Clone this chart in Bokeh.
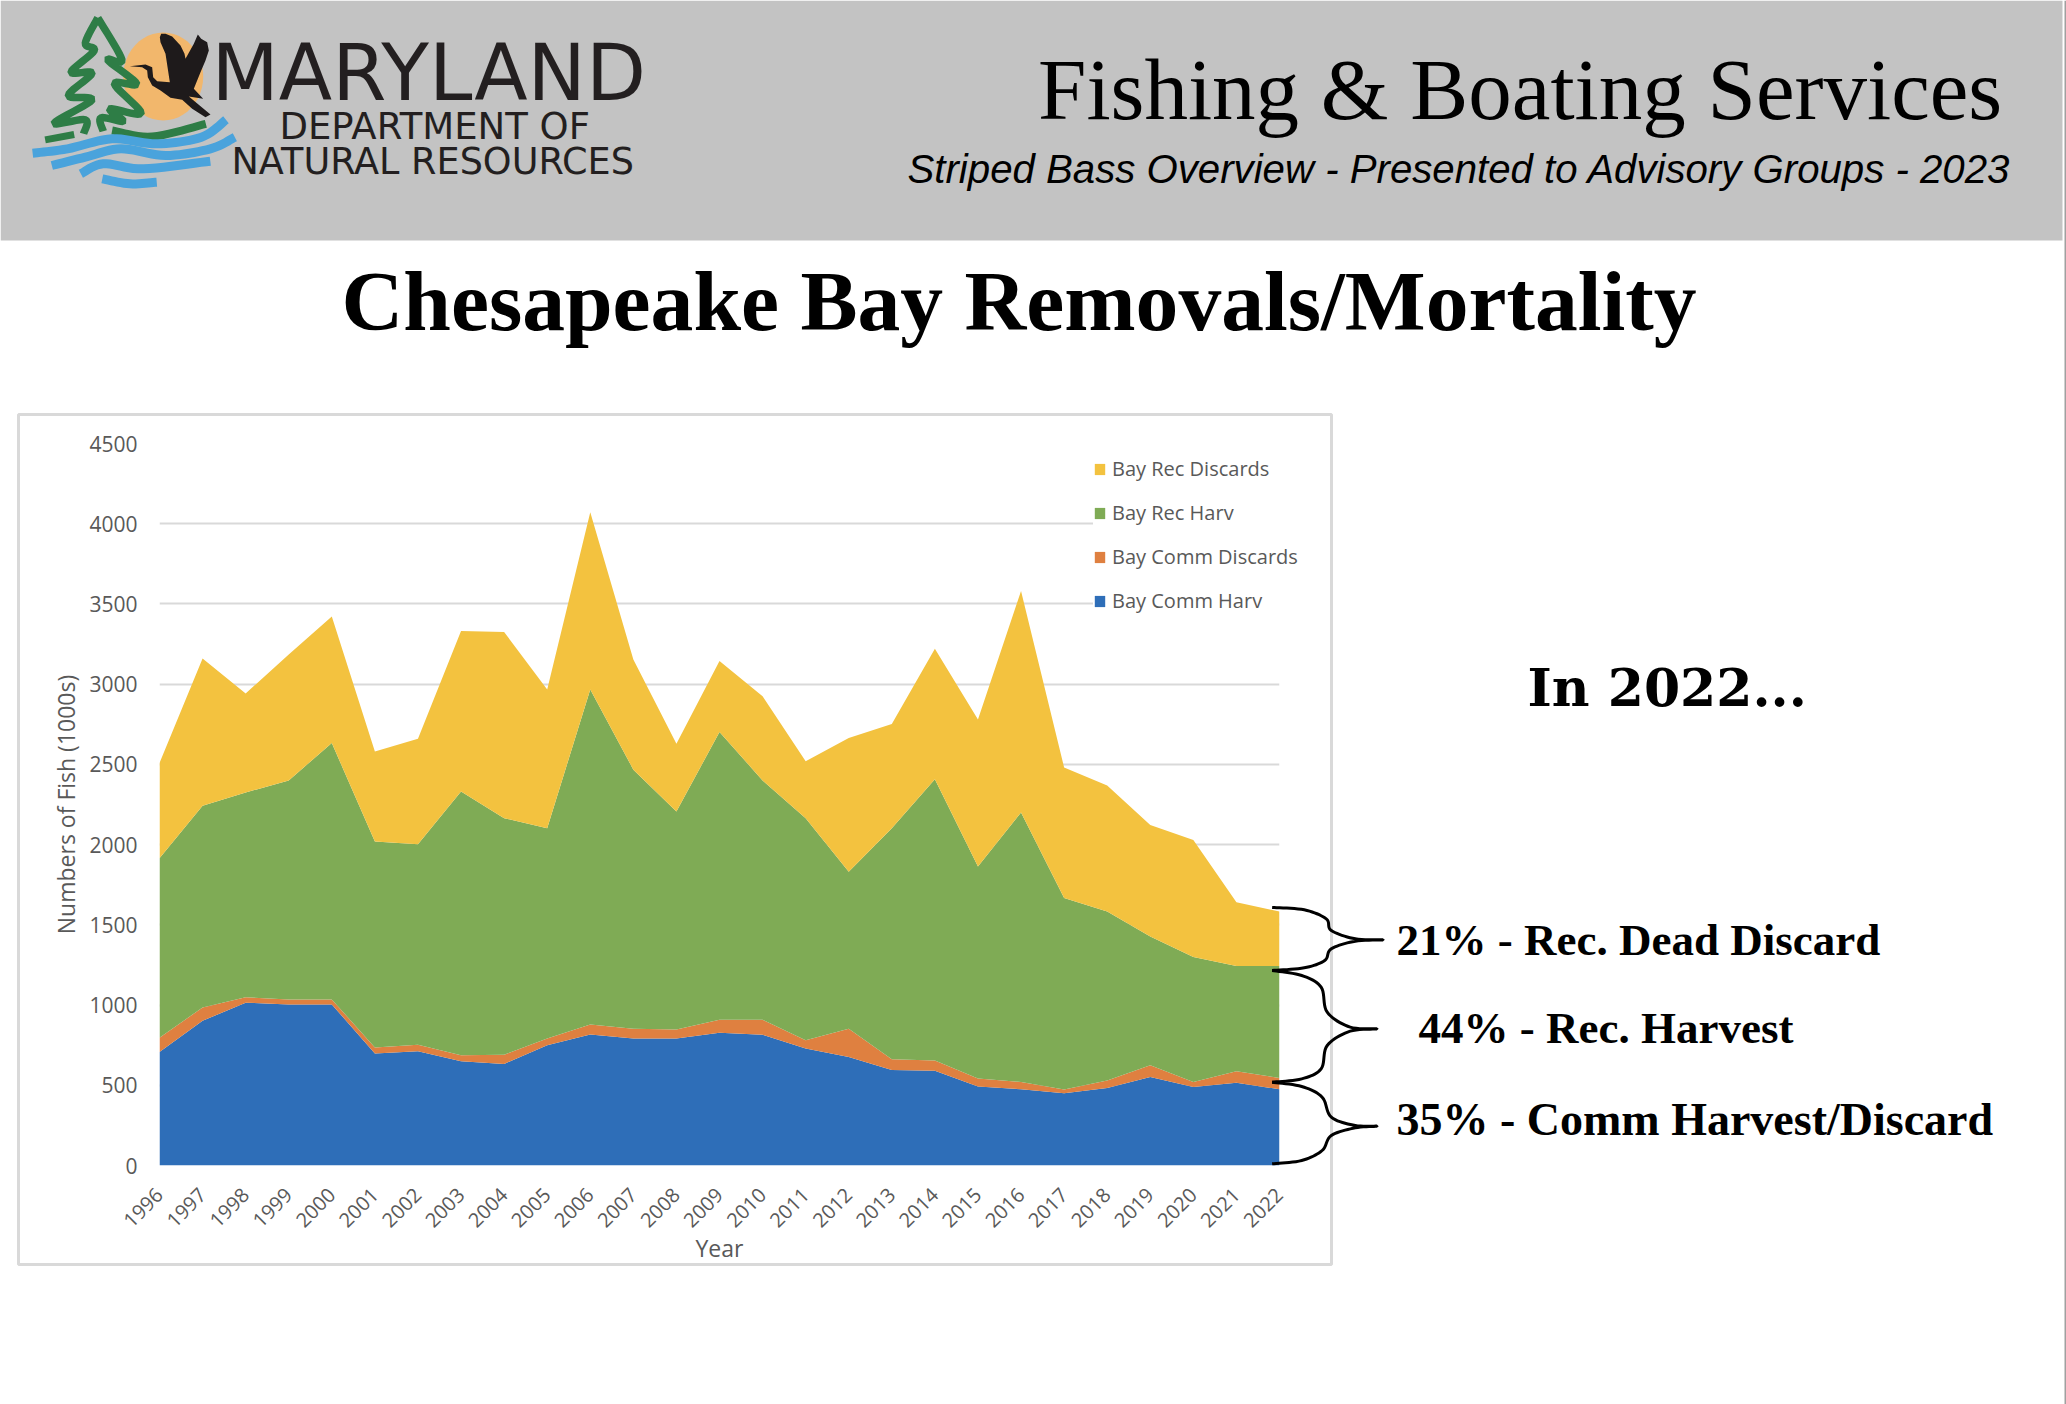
import math
from bokeh.embed import file_html
from bokeh.resources import INLINE
from bokeh.plotting import figure
from bokeh.models import (BoxAnnotation, ColumnDataSource, FixedTicker, Label, Legend,
                          LegendItem, PolyAnnotation, Range1d)

years = list(range(1996, 2023))
year_labels = [str(y) for y in years]

bay_comm_harv = [708, 902, 1015, 1004, 1004, 698, 712, 650, 633, 750, 817, 792, 792, 827, 815, 729, 677,
                 596, 590, 492, 475, 450, 483, 552, 490, 515, 475]
bay_comm_discards = [88, 83, 33, 31, 31, 37, 40, 37, 57, 42, 62, 60, 56, 81, 93, 52, 175,
                     66, 64, 50, 46, 23, 46, 73, 31, 72, 71]
bay_rec_harv = [1119, 1257, 1277, 1365, 1598, 1284, 1250, 1644, 1475, 1310, 2088, 1615, 1358, 1794, 1492,
                1384, 979, 1440, 1754, 1321, 1679, 1194, 1054, 802, 779, 657, 698]
bay_rec_discards = [593, 918, 617, 785, 788, 562, 658, 1000, 1160, 865, 1104, 687, 423, 442, 525, 354, 834,
                    650, 813, 916, 1381, 814, 786, 696, 729, 396, 339]

y_ticks = [0, 500, 1000, 1500, 2000, 2500, 3000, 3500, 4000, 4500]
series_names = ["Bay Comm Harv", "Bay Comm Discards", "Bay Rec Harv", "Bay Rec Discards"]
series_colors = ["#2E6EB8", "#DF8040", "#7FAB55", "#F3C23F"]

W, H = 2066, 1404
L, R, T, B = 159, 1279, 443, 1165

# ---- chart ----------------------------------------------------------------
p = figure(width=W, height=H, output_backend="svg", toolbar_location=None,
           x_range=Range1d(1996, 2022), y_range=Range1d(0, 4500),
           min_border_left=L, min_border_right=W - R, min_border_top=T, min_border_bottom=H - B,
           background_fill_color="white", border_fill_color="white", outline_line_color=None)
p.styles = {"position": "absolute", "left": "0px", "top": "0px"}

source = ColumnDataSource(dict(year=years, a=bay_comm_harv, b=bay_comm_discards, c=bay_rec_harv, d=bay_rec_discards))
areas = p.varea_stack(stackers=["a", "b", "c", "d"], x="year", color=series_colors, source=source)

p.xaxis.ticker = FixedTicker(ticks=years)
p.xaxis.major_label_orientation = math.pi / 4
p.yaxis.ticker = FixedTicker(ticks=y_ticks)
p.xaxis.major_label_overrides = {y: s for y, s in zip(years, year_labels)}
for ax, size in ((p.xaxis, "20px"), (p.yaxis, "21px")):
    ax.axis_line_color = None
    ax.major_tick_line_color = None
    ax.minor_tick_line_color = None
    ax.major_label_text_color = "#595959"
    ax.major_label_text_font = "Open Sans"
    ax.major_label_text_font_size = size
    ax.axis_label_text_color = "#595959"
    ax.axis_label_text_font = "Open Sans"
    ax.axis_label_text_font_size = "23px"
    ax.axis_label_text_font_style = "normal"
p.xaxis.axis_label = "Year"
p.yaxis.axis_label = "Numbers of Fish (1000s)"
p.xaxis.major_label_standoff = 20
p.yaxis.major_label_standoff = 16
p.xaxis.axis_label_standoff = -5
p.yaxis.axis_label_standoff = 4
p.xgrid.visible = False
p.ygrid.grid_line_color = "#D9D9D9"
p.ygrid.grid_line_width = 2

items = [LegendItem(label=n, renderers=[r]) for n, r in zip(series_names[::-1], areas[::-1])]
legend = Legend(items=items, location=(-186, 551), orientation="vertical", border_line_color=None,
                background_fill_color="white", background_fill_alpha=1, margin=0, padding=10,
                spacing=17, glyph_width=13, glyph_height=14, label_standoff=6, label_height=20,
                label_text_font="Open Sans", label_text_font_size="20px", label_text_color="#595959")
p.add_layout(legend, "right")

# ---- page furniture: a transparent sheet over the chart, in page pixels --------
q = figure(width=W, height=H, output_backend="svg", toolbar_location=None,
           x_range=Range1d(0, W), y_range=Range1d(H, 0), x_axis_location=None, y_axis_location=None,
           min_border=0, background_fill_color=None, border_fill_color=None, outline_line_color=None)
q.styles = {"position": "absolute", "left": "0px", "top": "0px"}
q.grid.grid_line_color = None


def box(l, r, t, b, fill, line=None, lw=0, level="underlay"):
    q.add_layout(BoxAnnotation(left=l, right=r, top=t, bottom=b, fill_color=fill, fill_alpha=1 if fill else 0,
                               line_color=line, line_width=lw, line_alpha=1 if line else 0, level=level))


def text(s, x, y, size, font="Liberation Serif", style="normal", color="#000000", align="left"):
    # y is the wanted baseline of the text on the page
    q.add_layout(Label(x=x, y=y - 0.34 * size, text=s, text_font=font, text_font_size=f"{size}px",
                       text_font_style=style, text_color=color, text_align=align, text_baseline="alphabetic"))


def smooth(pts, n=10):
    if len(pts) < 3:
        return list(pts)
    P = [pts[0]] + list(pts) + [pts[-1]]
    out = []
    for i in range(1, len(P) - 2):
        p0, p1, p2, p3 = P[i - 1], P[i], P[i + 1], P[i + 2]
        for k in range(n):
            t = k / n
            out.append(tuple(0.5 * (2 * p1[d] + (p2[d] - p0[d]) * t + (2 * p0[d] - 5 * p1[d] + 4 * p2[d] - p3[d]) * t * t
                                    + (3 * p1[d] - p0[d] - 3 * p2[d] + p3[d]) * t ** 3) for d in (0, 1)))
    out.append(pts[-1])
    return out


def poly(pts, color):
    q.add_layout(PolyAnnotation(xs=[a for a, _ in pts], ys=[b for _, b in pts], fill_color=color, fill_alpha=1,
                                line_color=None, line_alpha=0, level="overlay"))


def stroke(pts, width, color):
    c = smooth(pts)
    left, right = [], []
    for i, (a, b) in enumerate(c):
        a0, b0 = c[max(i - 1, 0)]
        a1, b1 = c[min(i + 1, len(c) - 1)]
        dx, dy = a1 - a0, b1 - b0
        d = math.hypot(dx, dy) or 1
        left.append((a - dy / d * width / 2, b + dx / d * width / 2))
        right.append((a + dy / d * width / 2, b - dx / d * width / 2))
    poly(left + right[::-1], color)


def lz(pts):  # logo sketch coordinates -> page pixels
    return [(a / 2.24, b / 3) for a, b in pts]


box(0, 2062, 0, 240, "#C3C3C3")
box(2064, W, 0, H, "#A0A0A0")
box(18, 1331, 414, 1264, None, "#D9D9D9", 3)

# logo
poly([(162.7 + 40 * math.cos(t / 24 * math.pi), 76 + 44 * math.sin(t / 24 * math.pi)) for t in range(48)], "#F2B76C")
GREEN, BLUE = "#2E7D46", "#4AA3DC"
stroke(lz([(218, 52), (190, 128), (210, 150), (158, 215), (205, 218), (152, 285), (205, 298), (120, 368), (190, 358), (186, 400)]), 7.5, GREEN)
stroke(lz([(218, 52), (272, 178), (240, 178), (305, 250), (255, 250), (315, 338), (245, 325), (275, 362), (225, 352), (230, 392)]), 7.5, GREEN)
stroke(lz([(100, 418), (165, 402)]), 7, GREEN)
stroke(lz([(250, 390), (340, 408), (460, 370)]), 8, GREEN)
stroke(lz([(72, 458), (150, 445), (250, 415), (350, 430), (450, 410), (505, 358)]), 9, BLUE)
stroke(lz([(115, 495), (190, 470), (270, 445), (370, 465), (470, 445), (525, 410)]), 9, BLUE)
stroke(lz([(180, 520), (230, 490), (320, 505), (470, 482)]), 9, BLUE)
stroke(lz([(228, 535), (290, 550), (350, 545)]), 9, BLUE)
bird = [(58, 167), (105, 162), (125, 170), (128, 200), (140, 212), (178, 215), (165, 130), (150, 95), (148, 80), (152, 70),
        (165, 70), (185, 78), (210, 105), (222, 130), (225, 145), (250, 100), (262, 72), (272, 85), (290, 95), (295, 120),
        (285, 150), (270, 185), (250, 235), (278, 265), (235, 258), (300, 312), (285, 320), (245, 295), (215, 268), (180, 262),
        (150, 240), (125, 225), (112, 200), (110, 180), (95, 170)]
poly([(110 + a / 3, 10 + b / 3) for a, b in bird], "#1E1A1B")
LOGO_FONT = "DejaVu Sans"
text("MARYLAND", 211, 99, 78, LOGO_FONT, color="#231F20")
text("DEPARTMENT OF", 279, 139, 37, LOGO_FONT, color="#231F20")
text("NATURAL RESOURCES", 231, 173, 36.6, LOGO_FONT, color="#231F20")

text("Fishing & Boating Services", 1037.5, 119, 87)
text("Striped Bass Overview - Presented to Advisory Groups - 2023", 907, 183, 40.2, "Liberation Sans", "italic")
text("Chesapeake Bay Removals/Mortality", 341, 330, 85.6, style="bold")
text("In 2022...", 1527, 705, 52, "DejaVu Serif", "bold")
text("21% - Rec. Dead Discard", 1396, 955, 45, style="bold")
text("44% - Rec. Harvest", 1418, 1043, 45, style="bold")
text("35% - Comm Harvest/Discard", 1396, 1135, 46, style="bold")


def bz(pts):
    return [(1240 + a / 1.96, 880 + b / 3) for a, b in pts]


stroke(bz([(62, 81), (125, 88), (168, 115), (178, 150), (225, 175), (280, 178), (225, 182), (178, 205), (165, 240), (125, 262), (62, 270)]), 3, "black")
stroke(bz([(62, 270), (120, 285), (158, 320), (170, 395), (215, 440), (268, 445), (215, 452), (170, 495), (158, 565), (120, 595), (62, 605)]), 3, "black")
stroke(bz([(62, 605), (120, 618), (160, 650), (178, 710), (225, 735), (268, 737), (225, 742), (178, 765), (160, 810), (120, 840), (62, 850)]), 3, "black")

open("out.html", "w").write(file_html([p, q], INLINE))
